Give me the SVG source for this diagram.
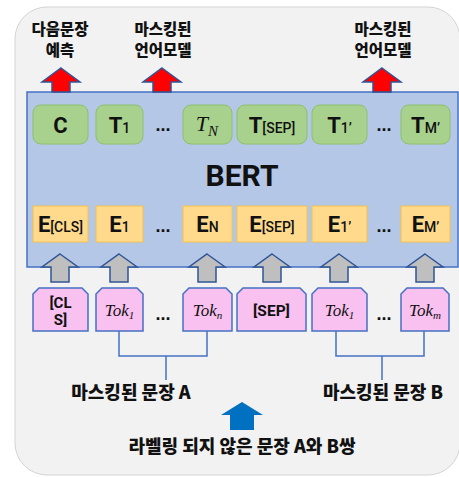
<svg xmlns="http://www.w3.org/2000/svg" width="459" height="477" viewBox="0 0 459 477">
<defs>
<style>
.kr{font-family:"Noto Sans CJK KR","Noto Sans",sans-serif;font-weight:900;fill:#111;text-anchor:middle}
.lat{font-family:Roboto,"Liberation Sans",sans-serif;font-weight:700;fill:#111;text-anchor:middle}
.sub{font-weight:500;font-size:14px}
.math{font-family:"Liberation Serif",serif;font-style:italic;fill:#111;text-anchor:middle}
.g{fill:#a9d18e;stroke:#8cc06c;stroke-width:1}
.y{fill:#ffd98c;stroke:#f5c24a;stroke-width:1}
.p{fill:#f9c1ef;stroke:#4472c4;stroke-width:1.5}
.ra{fill:#ff0000;stroke:#2f5597;stroke-width:1.5}
.ga{fill:#bfbfbf;stroke:#2f5597;stroke-width:1.5}
.ln{fill:none;stroke:#4472c4;stroke-width:1.5}
.dots{font-family:"Liberation Sans",sans-serif;font-weight:700;font-size:18px;fill:#111;text-anchor:middle}
</style>
</defs>
<rect x="0" y="0" width="459" height="477" fill="#ffffff"/>
<rect id="frame" x="15" y="7" width="445" height="468" rx="32" fill="#f2f2f2" stroke="#d4d4d4" stroke-width="1"/>

<g id="bert">
<rect x="27" y="92" width="431" height="175" fill="#b4c7e7" stroke="#4472c4" stroke-width="1.5"/>
<text class="lat" x="242" y="186" font-size="30">BERT</text>
</g>

<g id="top-labels">
<text class="kr" x="60" y="35" font-size="15.5">다음문장</text>
<text class="kr" x="60" y="56" font-size="15.5">예측</text>
<text class="kr" x="163" y="35" font-size="15.5">마스킹된</text>
<text class="kr" x="163" y="56" font-size="15.5">언어모델</text>
<text class="kr" x="383" y="35" font-size="15.5">마스킹된</text>
<text class="kr" x="383" y="56" font-size="15.5">언어모델</text>
</g>

<g id="red-arrows">
<polygon class="ra" points="61,68 80,82 70,82 70,92 52,92 52,82 42,82"/>
<polygon class="ra" points="162,68 181,82 171,82 171,92 153,92 153,82 143,82"/>
<polygon class="ra" points="382,68 401,82 391,82 391,92 373,92 373,82 363,82"/>
</g>

<g id="out-C"><rect class="g" x="33" y="105" width="55" height="39" rx="8"/><text class="lat" x="60.5" y="133" font-size="22">C</text></g>
<g id="out-T1"><rect class="g" x="96" y="105" width="47" height="39" rx="8"/><text class="lat" x="119.5" y="133" font-size="22">T<tspan class="sub" font-size="15">1</tspan></text></g>
<g id="out-TN"><rect class="g" x="183" y="105" width="49" height="39" rx="8"/><text class="math" x="207" y="131" font-size="22">T<tspan font-size="15" dy="5">N</tspan></text></g>
<g id="out-TSEP"><rect class="g" x="237" y="105" width="70" height="39" rx="8"/><text class="lat" x="272" y="133" font-size="22">T<tspan class="sub">[SEP]</tspan></text></g>
<g id="out-T1p"><rect class="g" x="312" y="105" width="55" height="39" rx="8"/><text class="lat" x="339.5" y="133" font-size="22">T<tspan class="sub" font-size="15">1’</tspan></text></g>
<g id="out-TM"><rect class="g" x="401" y="105" width="49" height="39" rx="8"/><text class="lat" x="425.5" y="133" font-size="22">T<tspan class="sub" font-size="15">M’</tspan></text></g>
<text class="dots" x="163" y="131">...</text>
<text class="dots" x="384" y="131">...</text>

<g id="emb-CLS"><rect class="y" x="33" y="206" width="55" height="36"/><text class="lat" x="60.5" y="232" font-size="22">E<tspan class="sub">[CLS]</tspan></text></g>
<g id="emb-E1"><rect class="y" x="96" y="206" width="47" height="36"/><text class="lat" x="119.5" y="232" font-size="22">E<tspan class="sub" font-size="15">1</tspan></text></g>
<g id="emb-EN"><rect class="y" x="183" y="206" width="49" height="36"/><text class="lat" x="207.5" y="232" font-size="22">E<tspan class="sub" font-size="15">N</tspan></text></g>
<g id="emb-ESEP"><rect class="y" x="237" y="206" width="70" height="36"/><text class="lat" x="272" y="232" font-size="22">E<tspan class="sub">[SEP]</tspan></text></g>
<g id="emb-E1p"><rect class="y" x="312" y="206" width="55" height="36"/><text class="lat" x="339.5" y="232" font-size="22">E<tspan class="sub" font-size="15">1’</tspan></text></g>
<g id="emb-EM"><rect class="y" x="401" y="206" width="49" height="36"/><text class="lat" x="425.5" y="232" font-size="22">E<tspan class="sub" font-size="15">M’</tspan></text></g>
<text class="dots" x="163" y="232">...</text>
<text class="dots" x="384" y="232">...</text>

<g id="gray-arrows">
<polygon class="ga" points="60,254 78,267 69,267 69,282 51,282 51,267 42,267"/>
<polygon class="ga" points="119,254 137,267 128,267 128,282 110,282 110,267 101,267"/>
<polygon class="ga" points="207,254 225,267 216,267 216,282 198,282 198,267 189,267"/>
<polygon class="ga" points="272,254 290,267 281,267 281,282 263,282 263,267 254,267"/>
<polygon class="ga" points="339,254 357,267 348,267 348,282 330,282 330,267 321,267"/>
<polygon class="ga" points="425,254 443,267 434,267 434,282 416,282 416,267 407,267"/>
</g>

<g id="connectors">
<path class="ln" d="M119,331 V356 H207 V331 M166,356 V380"/>
<path class="ln" d="M336,331 V356 H424 V331 M382,356 V380"/>
</g>

<g id="tok-CLS"><path class="p" d="M33,294 L39,288 H82 L88,294 V331 H33 Z"/><text class="lat" x="60.5" y="308" font-size="15">[CL</text><text class="lat" x="60.5" y="325" font-size="15">S]</text></g>
<g id="tok-1"><path class="p" d="M96,294 L102,288 H137 L143,294 V331 H96 Z"/><text class="math" x="119.5" y="316" font-size="17">Tok<tspan font-size="11" dy="3">1</tspan></text></g>
<g id="tok-n"><path class="p" d="M183,294 L189,288 H226 L232,294 V331 H183 Z"/><text class="math" x="207.5" y="316" font-size="17">Tok<tspan font-size="11" dy="3">n</tspan></text></g>
<g id="tok-SEP"><path class="p" d="M237,294 L243,288 H300 L306,294 V331 H237 Z"/><text class="lat" x="271.5" y="316" font-size="15.5">[SEP]</text></g>
<g id="tok-1b"><path class="p" d="M312,294 L318,288 H361 L367,294 V331 H312 Z"/><text class="math" x="339.5" y="316" font-size="17">Tok<tspan font-size="11" dy="3">1</tspan></text></g>
<g id="tok-m"><path class="p" d="M401,294 L407,288 H443 L449,294 V331 H401 Z"/><text class="math" x="425" y="316" font-size="17">Tok<tspan font-size="11" dy="3">m</tspan></text></g>
<text class="dots" x="163" y="320">...</text>
<text class="dots" x="384" y="320">...</text>

<g id="sent-A"><text class="kr" x="131" y="399" font-size="18">마스킹된 문장 A</text></g>
<g id="sent-B"><text class="kr" x="383" y="399" font-size="18">마스킹된 문장 B</text></g>
<g id="input-arrow"><polygon points="242,402 263,415 254,415 254,430 230,430 230,415 221,415" fill="#0070c0"/></g>
<g id="input"><text class="kr" x="242" y="453" font-size="18">라벨링 되지 않은 문장 A와 B쌍</text></g>
</svg>
